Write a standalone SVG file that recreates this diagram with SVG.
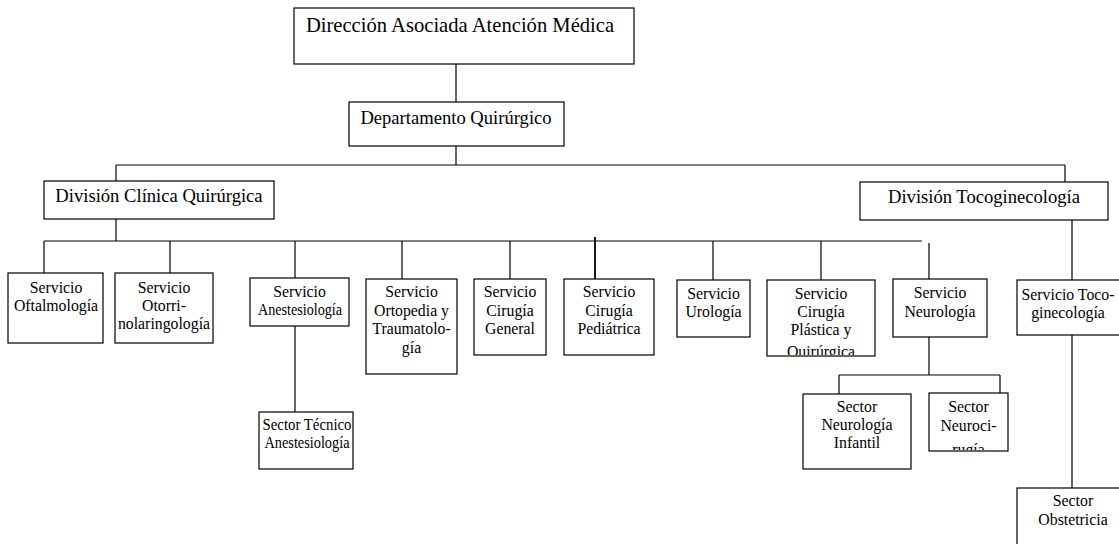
<svg xmlns="http://www.w3.org/2000/svg" width="1119" height="544" viewBox="0 0 1119 544">
<style>
rect.b{fill:#fff;stroke:#000;stroke-width:1.2}
line{stroke:#000;stroke-width:1.2}
text{font-family:"Liberation Serif","Times New Roman",serif;fill:#000;text-anchor:middle}
.t1{font-size:20.6px}
.t2{font-size:18.6px}
.t3{font-size:15.8px}
</style>
<defs>
<clipPath id="cPlast"><rect x="767" y="280" width="108" height="75"/></clipPath>
<clipPath id="cNeuroc"><rect x="929" y="393" width="79" height="57"/></clipPath>
</defs>
<rect width="1119" height="544" fill="#fff"/>
<g id="connectors">
<line x1="456" y1="64" x2="456" y2="108"/>
<line x1="456" y1="146" x2="456" y2="165"/>
<line x1="116" y1="165" x2="1065" y2="165"/>
<line x1="116" y1="165" x2="116" y2="181"/>
<line x1="1065" y1="165" x2="1065" y2="182"/>
<line x1="116" y1="219" x2="116" y2="241"/>
<line x1="44" y1="241" x2="922" y2="241"/>
<line x1="44" y1="241" x2="44" y2="273"/>
<line x1="170" y1="241" x2="170" y2="273"/>
<line x1="295" y1="241" x2="295" y2="278"/>
<line x1="402" y1="241" x2="402" y2="279"/>
<line x1="510" y1="241" x2="510" y2="279"/>
<line x1="595" y1="237" x2="595" y2="279" style="stroke-width:1.8"/>
<line x1="713" y1="241" x2="713" y2="280"/>
<line x1="821" y1="241" x2="821" y2="280"/>
<line x1="929" y1="243" x2="929" y2="279"/>
<line x1="1072" y1="220" x2="1072" y2="280"/>
<line x1="295" y1="326" x2="295" y2="412"/>
<line x1="929" y1="337" x2="929" y2="375"/>
<line x1="839" y1="375" x2="1000" y2="375"/>
<line x1="839" y1="375" x2="839" y2="394"/>
<line x1="1000" y1="375" x2="1000" y2="393"/>
<line x1="1072" y1="335" x2="1072" y2="488"/>
</g>
<g id="n-direccion"><rect class="b" x="294" y="8" width="340" height="56"/><text class="t1" x="460" y="32">Dirección Asociada Atención Médica</text></g>
<g id="n-depto"><rect class="b" x="349" y="102" width="215" height="44"/><text class="t2" x="456" y="124">Departamento Quirúrgico</text></g>
<g id="n-div-clinica"><rect class="b" x="44" y="181" width="230" height="38"/><text class="t2" x="159" y="202">División Clínica Quirúrgica</text></g>
<g id="n-div-toco"><rect class="b" x="860" y="182" width="248" height="38"/><text class="t2" x="984" y="203">División Tocoginecología</text></g>
<g id="n-oftal"><rect class="b" x="8" y="273" width="95" height="70"/><text class="t3" x="56" y="293">Servicio</text><text class="t3" x="56" y="311">Oftalmología</text></g>
<g id="n-otorri"><rect class="b" x="115" y="273" width="98" height="70"/><text class="t3" x="164" y="293">Servicio</text><text class="t3" x="164" y="311">Otorri-</text><text class="t3" x="164" y="329">nolaringología</text></g>
<g id="n-anest"><rect class="b" x="250" y="278" width="99" height="48"/><text class="t3" x="299.5" y="297">Servicio</text><text class="t3" x="300" y="315" textLength="84" lengthAdjust="spacingAndGlyphs">Anestesiología</text></g>
<g id="n-sector-tec"><rect class="b" x="259" y="412" width="94" height="57"/><text class="t3" x="307" y="430" textLength="89" lengthAdjust="spacingAndGlyphs">Sector Técnico</text><text class="t3" x="307" y="448" textLength="85" lengthAdjust="spacingAndGlyphs">Anestesiología</text></g>
<g id="n-orto"><rect class="b" x="366" y="279" width="91" height="95"/><text class="t3" x="411.5" y="297">Servicio</text><text class="t3" x="411.5" y="315.5">Ortopedia y</text><text class="t3" x="411.5" y="334">Traumatolo-</text><text class="t3" x="411.5" y="352.5">gía</text></g>
<g id="n-cirgen"><rect class="b" x="474" y="279" width="72" height="76"/><text class="t3" x="510" y="297">Servicio</text><text class="t3" x="510" y="315.5">Cirugía</text><text class="t3" x="510" y="334">General</text></g>
<g id="n-cirped"><rect class="b" x="564" y="279" width="90" height="76"/><text class="t3" x="609" y="297">Servicio</text><text class="t3" x="609" y="315.5">Cirugía</text><text class="t3" x="609" y="334">Pediátrica</text></g>
<g id="n-uro"><rect class="b" x="677" y="280" width="73" height="57"/><text class="t3" x="713.5" y="299">Servicio</text><text class="t3" x="713.5" y="317">Urología</text></g>
<g id="n-plast"><rect class="b" x="767" y="280" width="108" height="76"/><g clip-path="url(#cPlast)"><text class="t3" x="821" y="299">Servicio</text><text class="t3" x="821" y="317">Cirugía</text><text class="t3" x="821" y="335">Plástica y</text><text class="t3" x="821" y="357">Quirúrgica</text></g></g>
<g id="n-neuro"><rect class="b" x="893" y="279" width="94" height="58"/><text class="t3" x="940" y="298">Servicio</text><text class="t3" x="940" y="317">Neurología</text></g>
<g id="n-neuro-inf"><rect class="b" x="803" y="394" width="108" height="75"/><text class="t3" x="857" y="412">Sector</text><text class="t3" x="857" y="430">Neurología</text><text class="t3" x="857" y="448">Infantil</text></g>
<g id="n-neurocir"><rect class="b" x="929" y="393" width="79" height="58"/><g clip-path="url(#cNeuroc)"><text class="t3" x="968.5" y="412">Sector</text><text class="t3" x="968.5" y="431">Neuroci-</text><text class="t3" x="968.5" y="455">rugía</text></g></g>
<g id="n-serv-toco"><rect class="b" x="1017" y="280" width="104" height="55"/><text class="t3" x="1068" y="300">Servicio Toco-</text><text class="t3" x="1068" y="318">ginecología</text></g>
<g id="n-obst"><rect class="b" x="1017" y="488" width="113" height="62"/><text class="t3" x="1073" y="506">Sector</text><text class="t3" x="1073" y="525">Obstetricia</text></g>
</svg>
